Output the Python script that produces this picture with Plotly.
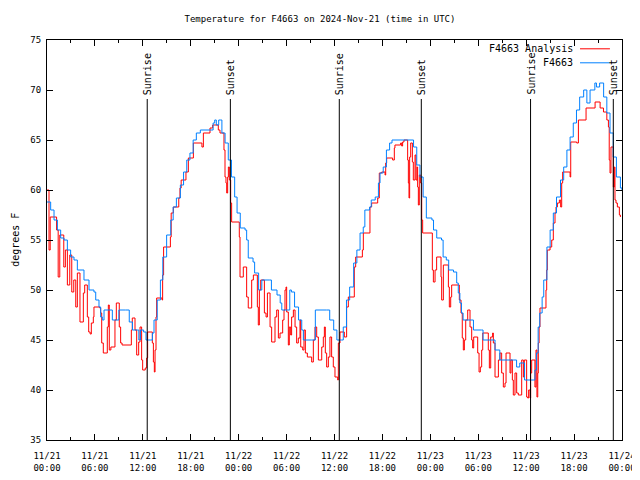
import plotly.graph_objects as go
import pandas as pd

START = pd.Timestamp("2024-11-21 00:00")

# F4663 observations (hours since 11/21 00:00 UTC, degrees F)
blue_hours = [0, 0.46, 0.88, 1.3, 1.71, 2.13, 2.55, 2.96, 3.38, 3.8, 4.63, 5.26, 5.88, 6.1, 6.51, 6.72,
              6.93, 7.14, 7.76, 8.18, 8.6, 9.0, 9.85, 10.3, 10.7, 11.3, 11.5, 11.7, 12.1, 12.4, 13.0,
              13.2, 13.4, 13.8, 14.2, 14.5, 14.98, 15.5, 15.8, 16.2, 16.7, 17.1, 17.5, 17.9, 18.3,
              18.7, 19.2, 20.4, 20.8, 21.0, 21.2, 21.5, 21.7, 21.9, 22.3, 22.7, 23.1, 23.5, 23.8,
              24.2, 24.8, 25.0, 25.2, 25.8, 26.0, 26.5, 26.9, 27.9, 28.1, 28.8, 29.2, 29.4, 30.0,
              30.4, 30.6, 31.0, 31.5, 31.9, 32.1, 33.1, 33.6, 35.0, 35.4, 35.9, 36.3, 36.9, 37.1,
              37.5, 37.9, 38.4, 38.8, 39.2, 39.6, 39.8, 40.4, 40.6, 41.1, 41.5, 41.7, 42.1, 42.5,
              42.9, 43.2, 45.7, 45.9, 46.3, 46.7, 47.1, 47.5, 48.2, 48.4, 48.8, 49.4, 49.6, 50.0,
              50.3, 50.9, 51.3, 51.5, 51.7, 51.9, 52.1, 53.2, 53.4, 54.4, 54.6, 55.7, 56.1, 56.7,
              58.4, 58.8, 59.2, 59.8, 60.9, 61.1, 61.3, 61.5, 61.7, 62.0, 62.2, 62.6, 63.0, 63.4,
              63.8, 64.3, 64.7, 65.1, 65.5, 65.9, 66.3, 66.7, 67.2, 67.6, 68.0, 68.6, 68.8, 69.2,
              69.7, 70.1, 70.5, 70.9, 71.3, 71.8, 72.0]
blue_vals = [58.8, 58, 57, 56, 55.2, 55, 54, 53.3, 53, 52, 51, 50, 49.8, 49, 48.3, 47.3,
             47, 48, 48, 47, 47, 48, 48, 46.8, 46, 46, 45, 46, 45.8, 45, 45,
             45.7, 47, 49, 51, 53.3, 55.5, 57, 58.3, 59.2, 60.5, 61.8, 63, 63.7, 65,
             65.7, 66, 66, 66.7, 67, 66.5, 67, 67, 65.7, 64.7, 63, 61.3, 59.3, 57.7,
             56.2, 56, 55, 53.2, 52.8, 51.7, 50, 51, 51, 50, 49.5, 48.7, 48, 48,
             50, 49.8, 48.3, 47, 46, 45, 45, 48, 48, 47, 46, 45, 45, 46.3,
             49, 50.3, 52.7, 54, 55.7, 56.3, 58, 58.3, 59, 59.3, 60.7, 61.7, 62.3, 64,
             64.7, 65, 65, 64.3, 62.5, 61.3, 59.3, 57.2, 57, 56, 55.2, 55, 53.3, 53,
             52, 51.8, 50.7, 49.7, 48.7, 47.7, 47, 47, 46, 46, 45, 45, 44, 43,
             43, 42.3, 42.7, 41, 41, 42, 43.7, 46.3, 47.7, 49.3, 51, 54.3, 56, 57.7,
             59.3, 61, 62.3, 64, 65.3, 66.7, 68, 69.3, 70, 68.7, 70, 70.7, 70.3, 70.7,
             69.3, 67.7, 65.7, 63.3, 61.3, 60.2, 60]

# F4663 Analysis
red_hours = [0, 0.25, 0.4, 1.2, 1.4, 1.6, 2.1, 2.3, 2.55, 2.85, 3.1, 3.35, 3.6, 3.8, 4.13, 4.55,
             4.72, 5.05, 5.22, 5.4, 5.55, 5.8, 5.88, 6.6, 6.72, 6.85, 7.05, 7.55, 7.68, 7.8, 8.0,
             8.51, 8.68, 9.05, 9.22, 9.4, 10.56, 10.68, 11.02, 11.23, 11.48, 11.65, 11.85, 11.98,
             12.3, 12.48, 12.6, 13.19, 13.32, 13.44, 13.53, 13.65, 13.73, 14.4, 14.48, 14.6, 15.45,
             15.55, 15.82, 16.5, 16.65, 16.8, 17.4, 17.7, 18.33, 19.4, 19.58, 20.41, 20.74, 21.45,
             21.66, 22.16, 22.29, 22.41, 22.5, 22.62, 22.71, 22.83, 23.0, 23.12, 24.08, 24.17,
             24.58, 25.0, 25.2, 25.63, 25.84, 26.34, 26.46, 26.59, 26.76, 27.22, 27.43, 27.6,
             27.93, 28.13, 28.55, 28.76, 28.97, 29.18, 29.51, 29.68, 29.8, 29.93, 30.01, 30.22,
             30.34, 30.51, 30.63, 30.85, 31.06, 31.26, 31.47, 31.68, 31.77, 32.02, 32.18, 32.35,
             32.6, 33.14, 33.35, 33.56, 33.77, 33.98, 34.4, 34.6, 34.73, 34.85, 35.02, 35.23,
             35.43, 35.64, 35.85, 36.06, 36.4, 36.48, 36.69, 37.23, 37.52, 37.73, 38.48, 38.65,
             39.49, 39.61, 40.44, 40.65, 41.41, 41.61, 41.91, 42.33, 42.41, 42.53, 43.28, 43.49,
             43.57, 44.28, 44.41, 44.53, 44.7, 45.16, 45.25, 45.33, 45.41, 45.54, 45.75, 45.87,
             46.08, 46.2, 46.33, 46.41, 46.5, 46.62, 46.79, 46.92, 47.04, 48.25, 48.38, 48.59,
             48.79, 49.34, 49.42, 49.63, 50.26, 50.38, 50.55, 50.67, 51.63, 51.84, 52.0, 52.13,
             52.26, 52.43, 52.68, 52.97, 53.18, 53.3, 53.43, 53.93, 54.1, 54.26, 54.43, 54.56,
             55.26, 55.39, 55.56, 55.8, 55.89, 56.1, 56.52, 56.72, 56.93, 57.14, 57.35, 57.48,
             57.98, 58.1, 58.27, 58.39, 58.6, 58.81, 59.02, 59.44, 59.65, 59.77, 60.06, 60.19,
             60.31, 60.48, 60.56, 60.69, 61.1, 61.23, 61.35, 61.45, 61.52, 61.62, 61.73, 62.48,
             62.57, 62.65, 62.99, 63.2, 63.4, 63.61, 63.74, 63.91, 64.16, 64.32, 64.45, 64.57,
             65.5, 65.58, 66.33, 66.54, 67.5, 68.63, 69.26, 69.68, 70.1, 70.3, 70.4, 70.5, 70.62,
             70.91, 71.04, 71.12, 71.25, 71.42, 71.67, 71.8]
red_vals = [60, 54, 57.3, 56, 51.3, 55.5, 52.3, 54, 50.5, 53.5, 49.8, 51, 48.3, 51.7, 46.8, 49.7,
            50.5, 47.3, 45.8, 45.6, 46.7, 47.3, 48.3, 48.2, 47.7, 44.7, 43.7, 46.3, 48.5, 44, 44.3,
            47, 48.7, 46.3, 44.7, 44.5, 46, 47.2, 46, 43.5, 44.8, 46.3, 43, 42,
            42.2, 43.2, 45.8, 44.7, 42.8, 41.8, 44, 47.3, 49.2, 49, 51.5, 54.3, 55.3,
            57.7, 58.3, 59.2, 60.2, 61, 61.8, 63.2, 64.7, 64.3, 65.7, 66.2, 66.5, 66,
            65.7, 64, 61.3, 60.7, 59.7, 61.3, 62.3, 61, 58.7, 56.8, 55.3, 51.3,
            52.3, 49.3, 48.2, 51, 51.5, 48.3, 46.5, 50, 51, 47.7, 47.3, 49.7,
            46.3, 44.8, 47.3, 48, 45.2, 45.7, 47, 48, 50, 50.3, 47.8, 44.5,
            46.3, 45.5, 47.3, 48, 46.3, 44.7, 45.2, 47, 44.3, 44, 46, 43.7,
            43.3, 42.8, 45, 46.3, 45.3, 43, 44.3, 45.3, 46.3, 43.7, 42.3, 43.3,
            45.3, 43.3, 42.3, 41.3, 41, 44.7, 45.8, 45.3, 48.3, 49.3, 52.3, 53.3,
            54, 55.7, 58.3, 58.7, 59.2, 61.7, 61.8, 61.5, 62.7, 63.2, 63, 64.2,
            64.5, 64.7, 64.4, 64.8, 65, 63, 60.7, 59.2, 63.3, 64.7, 62.8, 61,
            63.5, 61, 62.3, 60.3, 58.5, 61.5, 60.7, 57, 55.7, 52, 50.8, 52,
            53.3, 51.3, 49, 52.5, 50.3, 48.3, 49.3, 50.5, 49, 47.7, 45.2, 44,
            45, 47, 48, 46.3, 45, 44.2, 45.3, 43.7, 41.8, 42.3, 44, 45.7,
            44, 42.2, 45.3, 45.7, 44.7, 41.3, 43, 43.7, 41.7, 40.3, 40.7, 43.7,
            41.7, 43, 41, 39.5, 41.7, 39.7, 39.5, 43, 41.3, 43, 39.3, 39.2,
            40, 39.2, 41.7, 43, 40.3, 44, 39.3, 41.7, 44.7, 46.3, 48.2, 50,
            52, 54, 54.3, 55, 56.7, 57.7, 58.3, 58.7, 59, 58.3, 60.7, 61.8,
            61.3, 64.8, 64.7, 67, 68.2, 68.8, 68.2, 67.8, 67, 66.3, 63, 61.7, 64.3,
            60.3, 62.3, 59, 58.7, 58.3, 57.5, 57.3]

sunrise_hours = [12.55, 36.6, 60.55]
sunset_hours = [22.96, 46.87, 70.91]

y_ticks = [35, 40, 45, 50, 55, 60, 65, 70, 75]


def to_time(hours):
    return [START + pd.Timedelta(hours=h) for h in hours]


FONT = "DejaVu Sans Mono"
RED = "#ff0000"
BLUE = "#0080ff"

fig = go.Figure()
fig.add_trace(go.Scatter(x=to_time(red_hours), y=red_vals, mode="lines", name="F4663 Analysis",
                         line=dict(color=RED, width=1, shape="hv")))
fig.add_trace(go.Scatter(x=to_time(blue_hours), y=blue_vals, mode="lines", name="F4663",
                         line=dict(color=BLUE, width=1, shape="hv")))

for label, hours in (("Sunrise", sunrise_hours), ("Sunset", sunset_hours)):
    for t in to_time(hours):
        fig.add_shape(type="line", xref="x", yref="y", x0=t, x1=t, y0=35, y1=69.1,
                      line=dict(color="black", width=1))
        fig.add_annotation(x=t, y=69.3, xref="x", yref="y", text=label, textangle=-90,
                           showarrow=False, xanchor="center", yanchor="bottom",
                           font=dict(family=FONT, size=10, color="black"))

# gnuplot-style legend (text left of sample line)
for i, (name, col) in enumerate((("F4663 Analysis", RED), ("F4663", BLUE))):
    yp = 0.978 - i * 0.035
    fig.add_annotation(x=0.918, y=yp, xref="paper", yref="paper", text=name, showarrow=False,
                       xanchor="right", yanchor="middle", font=dict(family=FONT, size=10, color="black"))
    fig.add_shape(type="line", xref="paper", yref="paper", x0=0.927, x1=0.979, y0=yp, y1=yp,
                  line=dict(color=col, width=1))

fig.add_annotation(x=-0.056, y=0.5, xref="paper", yref="paper", text="degrees F", textangle=-90,
                   showarrow=False, xanchor="center", yanchor="middle",
                   font=dict(family=FONT, size=10, color="black"))

# page body has an 8px offset, margins compensate for it
fig.update_layout(
    width=640, height=480,
    margin=dict(l=39, r=26, t=32, b=48, autoexpand=False),
    paper_bgcolor="white", plot_bgcolor="white",
    showlegend=False,
    font=dict(family=FONT, size=9, color="black"),
    title=dict(text="Temperature for F4663 on 2024-Nov-21 (time in UTC)", x=(320 - 8) / 640,
               xref="container", y=1 - 11 / 480, yref="container", xanchor="center",
               yanchor="middle", font=dict(family=FONT, size=9, color="black")),
    xaxis=dict(range=[START, START + pd.Timedelta(hours=72)], type="date",
               tick0=START, dtick=6 * 3600 * 1000, tickformat="%m/%d<br>%H:%M",
               ticks="inside", ticklen=6, tickcolor="black", showgrid=False, zeroline=False,
               showline=True, linecolor="black", linewidth=1, mirror="ticks",
               ticklabelstandoff=7,
               minor=dict(dtick=3 * 3600 * 1000, ticks="inside", ticklen=3, tickcolor="black"),
               tickfont=dict(family=FONT, size=9)),
    yaxis=dict(range=[35, 75], tickvals=y_ticks, ticks="inside", ticklen=6, tickcolor="black",
               showgrid=False, zeroline=False, showline=True, linecolor="black", linewidth=1,
               mirror="ticks", ticklabelstandoff=3, tickfont=dict(family=FONT, size=9)),
)

fig.write_html("out.html")
